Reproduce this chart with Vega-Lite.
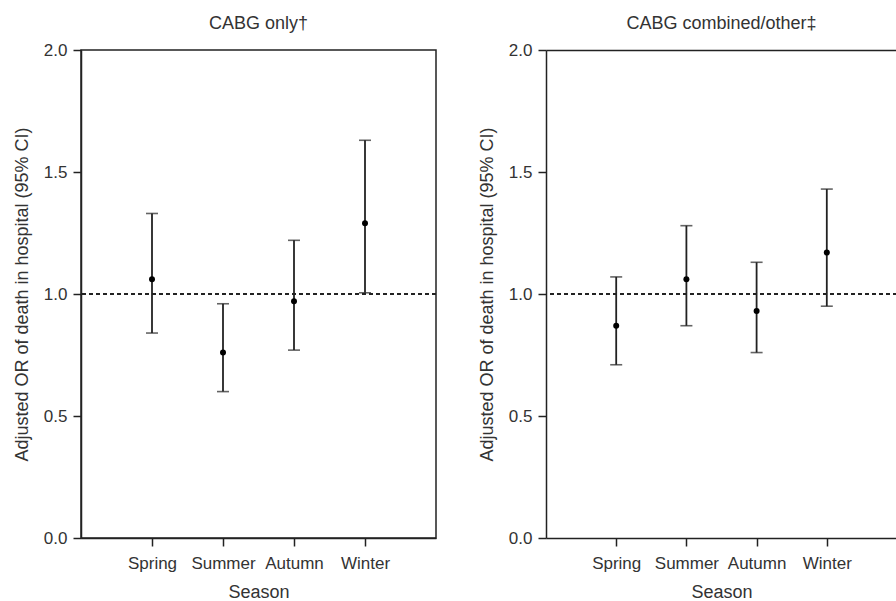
{
  "$schema": "https://vega.github.io/schema/vega-lite/v6.json",
  "padding": {"left": 12, "top": 14, "right": 0, "bottom": 0},
  "background": "white",
  "datasets": {
    "or": [
      {"panel": "left", "season": "Spring", "or": 1.06, "lo": 0.84, "hi": 1.33},
      {"panel": "left", "season": "Summer", "or": 0.76, "lo": 0.60, "hi": 0.96},
      {"panel": "left", "season": "Autumn", "or": 0.97, "lo": 0.77, "hi": 1.22},
      {"panel": "left", "season": "Winter", "or": 1.29, "lo": 1.005, "hi": 1.63},
      {"panel": "right", "season": "Spring", "or": 0.87, "lo": 0.71, "hi": 1.07},
      {"panel": "right", "season": "Summer", "or": 1.06, "lo": 0.87, "hi": 1.28},
      {"panel": "right", "season": "Autumn", "or": 0.93, "lo": 0.76, "hi": 1.13},
      {"panel": "right", "season": "Winter", "or": 1.17, "lo": 0.95, "hi": 1.43}
    ]
  },
  "data": {"name": "or"},
  "config": {
    "font": "Liberation Sans",
    "axis": {
      "grid": false,
      "domainColor": "#222",
      "domainWidth": 1.5,
      "tickColor": "#222",
      "tickWidth": 1.5,
      "tickSize": 8,
      "labelFont": "Liberation Sans",
      "labelFontSize": 17,
      "labelColor": "#333",
      "labelPadding": 6,
      "titleFont": "Liberation Sans",
      "titleFontSize": 18,
      "titleFontWeight": "normal",
      "titleColor": "#333"
    },
    "title": {"font": "Liberation Sans", "fontSize": 18, "fontWeight": "normal", "color": "#333", "frame": "group", "offset": 8}
  },
  "hconcat": [
    {
      "width": 355,
      "height": 488,
      "view": {"stroke": "#222", "strokeWidth": 1.5},
      "title": {"text": "CABG only†"},
      "transform": [{"filter": "datum.panel == 'left'"}],
      "layer": [
        {
          "mark": {"type": "rule", "strokeDash": [4, 3], "strokeWidth": 1.5, "color": "#222"},
          "encoding": {"y": {"datum": 1, "type": "quantitative", "scale": {"domain": [0, 2], "nice": false}}}
        },
        {
          "mark": {"type": "rule", "strokeWidth": 1.8, "color": "#222"},
          "encoding": {
            "x": {"field": "season", "type": "nominal", "sort": ["Spring", "Summer", "Autumn", "Winter"], "scale": {"type": "point", "padding": 1}, "axis": {"labelAngle": 0, "title": "Season", "titlePadding": 12, "labelPadding": 9}},
            "y": {"field": "lo", "type": "quantitative", "scale": {"domain": [0, 2], "nice": false}, "axis": {"values": [0, 0.5, 1, 1.5, 2], "format": ".1f", "title": "Adjusted OR of death in hospital (95% CI)", "titlePadding": 12}},
            "y2": {"field": "hi"}
          }
        },
        {
          "mark": {"type": "tick", "size": 12, "thickness": 1.6, "color": "#222"},
          "encoding": {"x": {"field": "season", "type": "nominal", "sort": ["Spring", "Summer", "Autumn", "Winter"]}, "y": {"field": "lo", "type": "quantitative"}}
        },
        {
          "mark": {"type": "tick", "size": 12, "thickness": 1.6, "color": "#222"},
          "encoding": {"x": {"field": "season", "type": "nominal", "sort": ["Spring", "Summer", "Autumn", "Winter"]}, "y": {"field": "hi", "type": "quantitative"}}
        },
        {
          "mark": {"type": "circle", "size": 36, "color": "#000", "opacity": 1},
          "encoding": {"x": {"field": "season", "type": "nominal", "sort": ["Spring", "Summer", "Autumn", "Winter"]}, "y": {"field": "or", "type": "quantitative"}}
        }
      ]
    },
    {
      "width": 351,
      "height": 488,
      "view": {"stroke": null},
      "title": {"text": "CABG combined/other‡"},
      "transform": [{"filter": "datum.panel == 'right'"}],
      "resolve": {"axis": {"x": "independent"}},
      "layer": [
        {
          "mark": {"type": "rule", "strokeDash": [4, 3], "strokeWidth": 1.5, "color": "#222"},
          "encoding": {"y": {"datum": 1, "type": "quantitative", "scale": {"domain": [0, 2], "nice": false}}}
        },
        {
          "mark": {"type": "rule", "strokeWidth": 1.8, "color": "#222"},
          "encoding": {
            "x": {"field": "season", "type": "nominal", "sort": ["Spring", "Summer", "Autumn", "Winter"], "scale": {"type": "point", "padding": 1}, "axis": {"labelAngle": 0, "title": "Season", "titlePadding": 12, "labelPadding": 9}},
            "y": {"field": "lo", "type": "quantitative", "scale": {"domain": [0, 2], "nice": false}, "axis": {"values": [0, 0.5, 1, 1.5, 2], "format": ".1f", "title": "Adjusted OR of death in hospital (95% CI)", "titlePadding": 12}},
            "y2": {"field": "hi"}
          }
        },
        {
          "mark": {"type": "tick", "size": 12, "thickness": 1.6, "color": "#222"},
          "encoding": {"x": {"field": "season", "type": "nominal", "sort": ["Spring", "Summer", "Autumn", "Winter"], "axis": {"orient": "top", "labels": false, "ticks": false, "title": null, "domain": true}}, "y": {"field": "lo", "type": "quantitative"}}
        },
        {
          "mark": {"type": "tick", "size": 12, "thickness": 1.6, "color": "#222"},
          "encoding": {"x": {"field": "season", "type": "nominal", "sort": ["Spring", "Summer", "Autumn", "Winter"], "axis": null}, "y": {"field": "hi", "type": "quantitative"}}
        },
        {
          "mark": {"type": "circle", "size": 36, "color": "#000", "opacity": 1},
          "encoding": {"x": {"field": "season", "type": "nominal", "sort": ["Spring", "Summer", "Autumn", "Winter"], "axis": null}, "y": {"field": "or", "type": "quantitative"}}
        }
      ]
    }
  ],
  "spacing": 110,
  "bounds": "flush"
}
